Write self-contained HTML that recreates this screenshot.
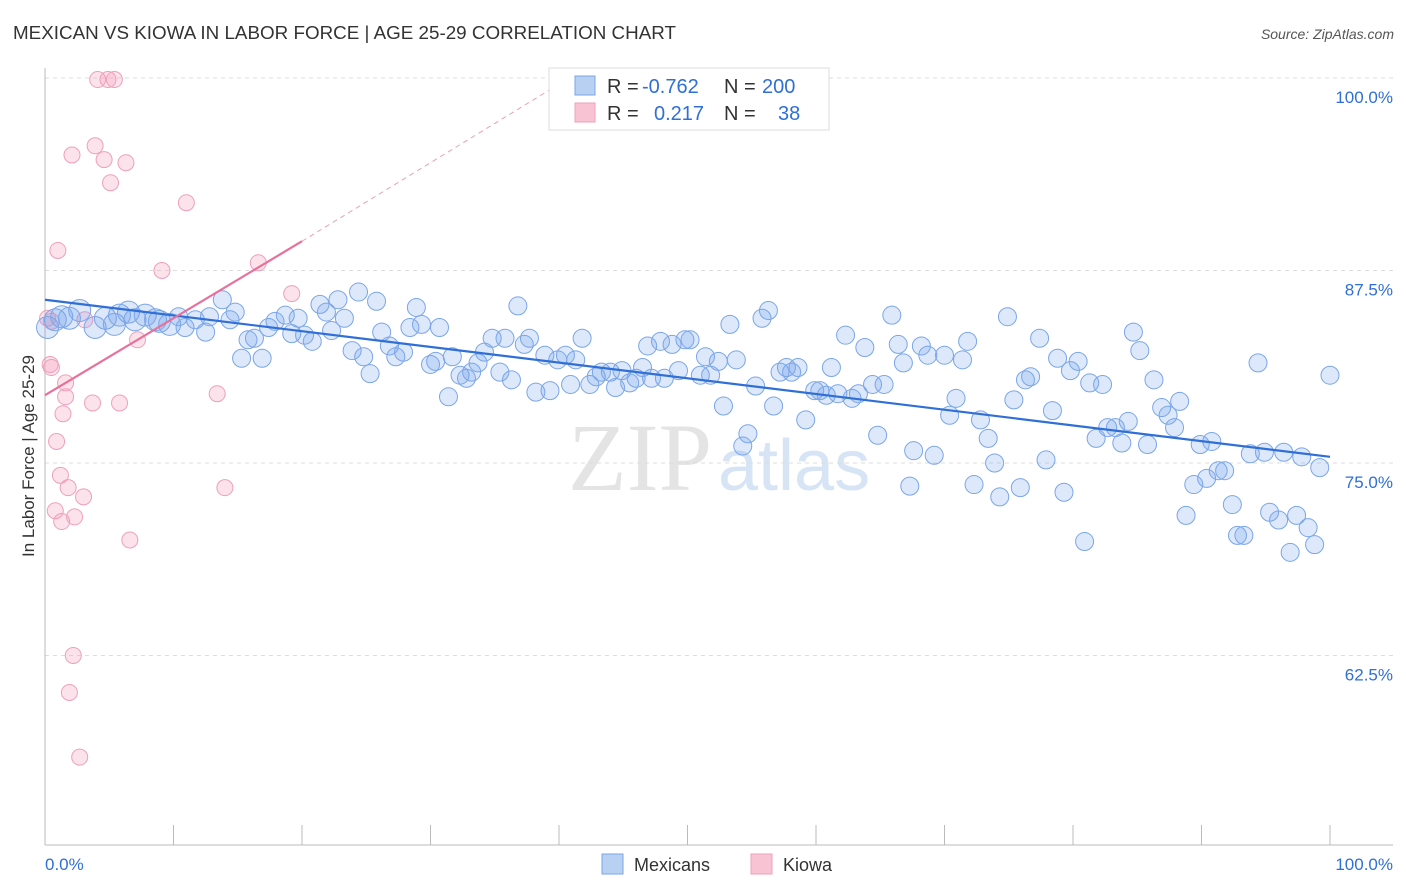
<!DOCTYPE html>
<html><head><meta charset="utf-8"><style>
body{margin:0;background:#fff;font-family:"Liberation Sans",sans-serif;}
svg{display:block}
</style></head><body>
<svg id="chart" width="1406" height="892">
<text x="13" y="39" font-size="18" fill="#333" textLength="663" lengthAdjust="spacingAndGlyphs">MEXICAN VS KIOWA IN LABOR FORCE | AGE 25-29 CORRELATION CHART</text>
<text x="1394" y="39" font-size="14" font-style="italic" fill="#555" text-anchor="end">Source: ZipAtlas.com</text>
<text x="712" y="490" font-size="96" text-anchor="end" fill="#e4e4e4" font-family="Liberation Serif,serif">ZIP</text>
<text x="718" y="490" font-size="72" fill="#d6e4f5">atlas</text>
<g id="grid"></g>
<g id="axes"></g>
<g id="pts"></g>
<g id="trend"></g>
<text transform="translate(34,456) rotate(-90)" font-size="17" fill="#333" text-anchor="middle">In Labor Force | Age 25-29</text>
<g>
<rect x="549" y="68" width="280" height="62" fill="#fff" stroke="#ddd"/>
<rect x="575" y="76" width="20" height="19" fill="#b8d0f2" stroke="#7aa6e8"/>
<rect x="575" y="103" width="20" height="19" fill="#f8c4d4" stroke="#eea0bb"/>
<text x="607" y="93" font-size="20" fill="#333">R =</text>
<text x="642" y="93" font-size="20" fill="#2f6fd6">-0.762</text>
<text x="724" y="93" font-size="20" fill="#333">N =</text>
<text x="762" y="93" font-size="20" fill="#2f6fd6">200</text>
<text x="607" y="120" font-size="20" fill="#333">R =</text>
<text x="654" y="120" font-size="20" fill="#2f6fd6">0.217</text>
<text x="724" y="120" font-size="20" fill="#333">N =</text>
<text x="778" y="120" font-size="20" fill="#2f6fd6">38</text>
</g>
<g>
<rect x="602" y="854" width="21" height="20" fill="#b8d0f2" stroke="#7aa6e8"/>
<text x="634" y="871" font-size="18" fill="#333">Mexicans</text>
<rect x="751" y="854" width="21" height="20" fill="#f8c4d4" stroke="#eea0bb"/>
<text x="783" y="871" font-size="18" fill="#333">Kiowa</text>
</g>
</svg>
<script>
const blueX=[0.2,0.8,1.3,1.9,2.7,3.9,4.7,5.4,5.8,6.5,7.0,7.8,8.6,8.9,9.7,10.4,10.9,11.7,12.5,12.8,13.8,14.4,14.8,15.3,15.8,16.3,16.9,17.4,17.9,18.7,19.2,19.7,20.2,20.8,21.4,21.9,22.3,22.8,23.3,23.9,24.4,24.8,25.3,25.8,26.2,26.8,27.3,27.9,28.4,28.9,29.3,30.0,30.4,30.7,31.4,31.7,32.3,32.8,33.2,33.7,34.2,34.8,35.4,35.8,36.3,36.8,37.3,37.7,38.2,38.9,39.3,39.9,40.5,40.9,41.3,41.8,42.4,42.9,43.3,44.0,44.4,44.9,45.5,46.0,46.5,46.9,47.2,47.9,48.2,48.8,49.3,49.8,50.2,51.0,51.4,51.8,52.4,52.8,53.3,53.8,54.3,54.7,55.3,55.8,56.3,56.7,57.2,57.7,58.1,58.6,59.2,59.9,60.3,60.8,61.2,61.7,62.3,62.8,63.3,63.8,64.4,64.8,65.3,65.9,66.4,66.8,67.3,67.6,68.2,68.7,69.2,70.0,70.4,70.9,71.4,71.8,72.3,72.8,73.4,73.9,74.3,74.9,75.4,75.9,76.3,76.7,77.4,77.9,78.4,78.8,79.3,79.8,80.4,80.9,81.3,81.8,82.3,82.7,83.3,83.8,84.3,84.7,85.2,85.8,86.3,86.9,87.4,87.9,88.3,88.8,89.4,89.9,90.4,90.8,91.3,91.8,92.4,92.8,93.3,93.8,94.4,94.9,95.3,96.0,96.4,96.9,97.4,97.8,98.3,98.8,99.2,100];
const blueY=[83.8,84.3,84.5,84.4,84.9,83.8,84.4,84.0,84.6,84.8,84.3,84.6,84.3,84.2,84.0,84.5,83.8,84.3,83.5,84.5,85.6,84.3,84.8,81.8,83.0,83.1,81.8,83.8,84.2,84.6,83.4,84.4,83.3,82.9,85.3,84.8,83.6,85.6,84.4,82.3,86.1,81.9,80.8,85.5,83.5,82.6,81.9,82.2,83.8,85.1,84.0,81.4,81.6,83.8,79.3,81.9,80.7,80.5,80.9,81.5,82.2,83.1,80.9,83.1,80.4,85.2,82.7,83.1,79.6,82.0,79.7,81.7,82.0,80.1,81.7,83.1,80.1,80.6,80.9,80.9,79.9,81.0,80.2,80.5,81.2,82.6,80.5,82.9,80.5,82.7,81.0,83.0,83.0,80.7,81.9,80.7,81.6,78.7,84.0,81.7,76.1,76.9,80.0,84.4,84.9,78.7,80.9,81.2,80.9,81.2,77.8,79.7,79.7,79.4,81.2,79.5,83.3,79.2,79.5,82.5,80.1,76.8,80.1,84.6,82.7,81.5,73.5,75.8,82.6,82.0,75.5,82.0,78.1,79.2,81.7,82.9,73.6,77.8,76.6,75.0,72.8,84.5,79.1,73.4,80.4,80.6,83.1,75.2,78.4,81.8,73.1,81.0,81.6,69.9,80.2,76.6,80.1,77.3,77.3,76.3,77.7,83.5,82.3,76.2,80.4,78.6,78.1,77.3,79.0,71.6,73.6,76.2,74.0,76.4,74.5,74.5,72.3,70.3,70.3,75.6,81.5,75.7,71.8,71.3,75.7,69.2,71.6,75.4,70.8,69.7,74.7,80.7];
const pinkX=[0.4,0.5,0.8,0.9,1.0,1.2,1.3,1.4,1.6,1.6,1.8,1.9,2.1,2.2,2.3,2.7,3.0,3.7,3.9,4.1,4.6,4.9,5.1,5.4,5.8,6.3,6.6,7.2,9.1,11.0,13.4,14.0,16.6,19.2,0.2,0.5,3.1];
const pinkY=[81.4,81.2,71.9,76.4,88.8,74.2,71.2,78.2,80.2,79.3,73.4,60.1,95.0,62.5,71.5,55.9,72.8,78.9,95.6,99.9,94.7,99.9,93.2,99.9,78.9,94.5,70.0,83.0,87.5,91.9,79.5,73.4,88.0,86.0,84.4,84.2,84.3];
const blueTrendX=[0,100], blueTrendY=[85.6,75.4];
const pinkTrendX=[0,20], pinkTrendY=[79.4,89.4];
const pinkDashX=[20,40], pinkDashY=[89.4,99.6];
const yTicks=[100,87.5,75,62.5], yTickLabels=["100.0%","87.5%","75.0%","62.5%"];
const xTicks=[0,10,20,30,40,50,60,70,80,90,100];

const X=v=>45+v*12.85, Y=v=>78+(100-v)*15.4;
const NS="http://www.w3.org/2000/svg";
function mk(tag,attrs,parent){const e=document.createElementNS(NS,tag);for(const k in attrs)e.setAttribute(k,attrs[k]);parent.appendChild(e);return e;}
const grid=document.getElementById('grid'),axes=document.getElementById('axes'),pts=document.getElementById('pts'),tr=document.getElementById('trend');
yTicks.forEach((t,i)=>{
 const l=mk('line',{x1:45,x2:1393,y1:Y(t),y2:Y(t),stroke:'#ddd','stroke-dasharray':'4,4'},grid);
 
 
 const tx=mk('text',{x:1393,y:Y(t)+25,'font-size':17,fill:'#2f6fd6','text-anchor':'end'},axes);
 tx.textContent=yTickLabels[i];
 
 
});
const ax=mk('line',{x1:45,x2:45,y1:68,y2:845,stroke:'#bbb'},axes);


const bx=mk('line',{x1:45,x2:1393,y1:845,y2:845,stroke:'#bbb'},axes);


xTicks.forEach(t=>{
 const l=mk('line',{x1:X(t),x2:X(t),y1:825,y2:845,stroke:'#bbb'},axes);
 
 
});
const xl0=mk('text',{x:45,y:870,'font-size':17,fill:'#2f6fd6'},axes);xl0.textContent='0.0%';


const xl1=mk('text',{x:1393,y:870,'font-size':17,fill:'#2f6fd6','text-anchor':'end'},axes);xl1.textContent='100.0%';


pinkX.forEach((x,i)=>{
 const c=mk('circle',{cx:X(x),cy:Y(pinkY[i]),r:8,fill:'rgba(244,160,188,0.3)',stroke:'#eea0bb','stroke-width':1},pts);
 
 
});
blueX.forEach((x,i)=>{
 const c=mk('circle',{cx:X(x),cy:Y(blueY[i]),r:x<10?11:9,fill:'rgba(120,165,235,0.25)',stroke:'#7aa6e8','stroke-width':1},pts);
 
 
});
const bt=mk('line',{x1:X(blueTrendX[0]),y1:Y(blueTrendY[0]),x2:X(blueTrendX[1]),y2:Y(blueTrendY[1]),stroke:'#2f6fd6','stroke-width':2.2},tr);


const pt=mk('line',{x1:X(pinkTrendX[0]),y1:Y(pinkTrendY[0]),x2:X(pinkTrendX[1]),y2:Y(pinkTrendY[1]),stroke:'#e8709a','stroke-width':2.2},tr);


const pd=mk('line',{x1:X(pinkDashX[0]),y1:Y(pinkDashY[0]),x2:X(pinkDashX[1]),y2:Y(pinkDashY[1]),stroke:'#e8a0b8','stroke-width':1,'stroke-dasharray':'5,4'},tr);


</script>
</body></html>
